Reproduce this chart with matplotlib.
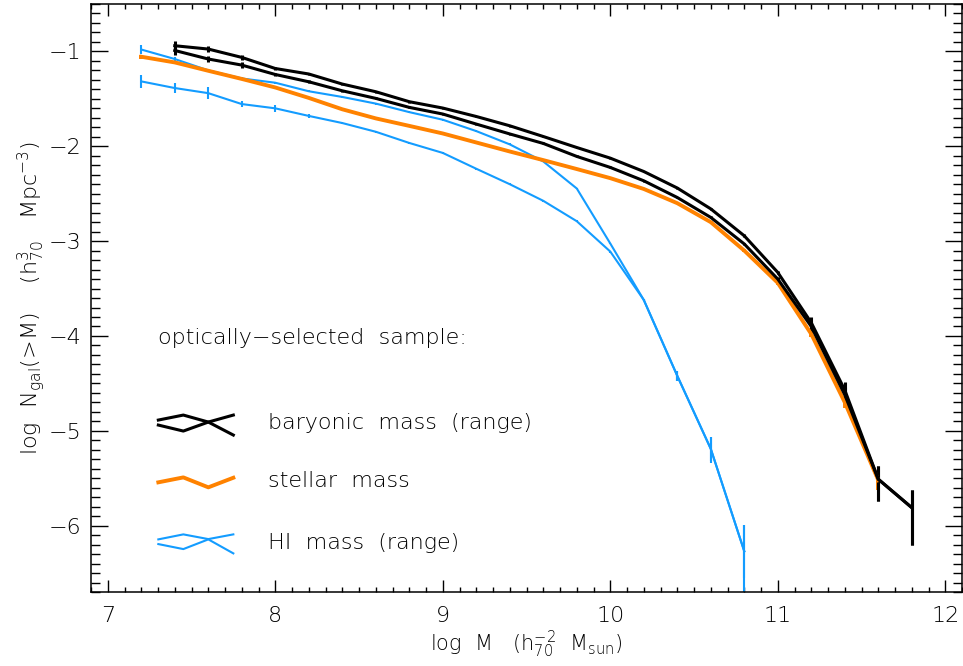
import matplotlib
matplotlib.use("Agg")
import matplotlib.pyplot as plt
from matplotlib.ticker import MultipleLocator

# mass bins (log M)
x_bary = [7.4, 7.6, 7.8, 8.0, 8.2, 8.4, 8.6, 8.8, 9.0, 9.2, 9.4, 9.6, 9.8,
          10.0, 10.2, 10.4, 10.6, 10.8, 11.0, 11.2, 11.4, 11.6, 11.8]
x_star = [7.2, 7.4, 7.6, 7.8, 8.0, 8.2, 8.4, 8.6, 8.8, 9.0, 9.2, 9.4, 9.6, 9.8,
          10.0, 10.2, 10.4, 10.6, 10.8, 11.0, 11.2, 11.4, 11.6]
x_hi = [7.2, 7.4, 7.6, 7.8, 8.0, 8.2, 8.4, 8.6, 8.8, 9.0, 9.2, 9.4, 9.6, 9.8,
        10.0, 10.2, 10.4, 10.6, 10.8]

# baryonic mass range (upper / lower)
bary_hi = [-0.94, -0.975, -1.063, -1.18, -1.238, -1.344, -1.425, -1.53, -1.597,
           -1.686, -1.784, -1.897, -2.013, -2.125, -2.266, -2.44, -2.66, -2.944,
           -3.33, -3.86, -4.57, -5.51, -5.81]
bary_lo = [-0.99, -1.08, -1.144, -1.243, -1.32, -1.415, -1.495, -1.59, -1.66,
           -1.766, -1.87, -1.97, -2.107, -2.223, -2.364, -2.54, -2.75, -3.03,
           -3.40, -3.90, -4.62, -5.51, -5.81]
bary_err_dn = [0.05, 0.03, 0.03, 0.02, 0.015, 0.01, 0.01, 0.01, 0.01, 0.01, 0.01,
               0.01, 0.01, 0.01, 0.01, 0.01, 0.01, 0.015, 0.02, 0.055, 0.1, 0.23, 0.39]
bary_err_up = [0.05, 0.03, 0.03, 0.02, 0.015, 0.01, 0.01, 0.01, 0.01, 0.01, 0.01,
               0.01, 0.01, 0.01, 0.01, 0.01, 0.01, 0.015, 0.02, 0.055, 0.08, 0.14, 0.19]

# stellar mass
stellar = [-1.056, -1.116, -1.204, -1.29, -1.38, -1.49, -1.61, -1.706, -1.785,
           -1.865, -1.96, -2.055, -2.146, -2.24, -2.336, -2.45, -2.60, -2.80,
           -3.10, -3.44, -3.98, -4.70, -5.52]
stellar_err = [0.02, 0.015, 0.01, 0.01, 0.01, 0.01, 0.01, 0.01, 0.01, 0.01, 0.01,
               0.01, 0.01, 0.01, 0.01, 0.01, 0.01, 0.01, 0.015, 0.02, 0.03, 0.06, 0.1]

# HI mass range (upper / lower)
hi_hi = [-0.98, -1.08, -1.20, -1.285, -1.33, -1.42, -1.48, -1.55, -1.64, -1.72,
         -1.84, -1.98, -2.16, -2.445, -3.025, -3.62, -4.42, -5.19, -6.27]
hi_lo = [-1.316, -1.386, -1.44, -1.555, -1.60, -1.68, -1.755, -1.847, -1.965,
         -2.07, -2.237, -2.40, -2.575, -2.79, -3.11, -3.62, -4.42, -5.19, -6.27]
hi_hi_err = [0.045, 0.02, 0.015, 0.015, 0.01, 0.01, 0.01, 0.01, 0.01, 0.01, 0.01,
             0.01, 0.01, 0.01, 0.01, 0.01, 0.05, 0.13, 0.28]
hi_lo_dn = [0.065, 0.055, 0.06, 0.035, 0.035, 0.02, 0.015, 0.01, 0.01, 0.01, 0.01,
            0.01, 0.01, 0.01, 0.01, 0.01, 0.05, 0.15, 1.0]
hi_lo_up = [0.07, 0.055, 0.06, 0.035, 0.035, 0.02, 0.015, 0.01, 0.01, 0.01, 0.01,
            0.01, 0.01, 0.01, 0.01, 0.01, 0.05, 0.12, 0.28]

BLUE = "#139cff"
ORANGE = "#ff8200"
BLACK = "#000000"

plt.rcParams["font.family"] = "DejaVu Sans"
plt.rcParams["font.weight"] = "light"
plt.rcParams["axes.labelweight"] = "light"
plt.rcParams["mathtext.fontset"] = "dejavusans"

fig = plt.figure(figsize=(9.63, 6.66), dpi=100)
ax = fig.add_axes([0.0945, 0.111, 0.9045, 0.883])

# HI mass range
ax.errorbar(x_hi, hi_hi, yerr=hi_hi_err, color=BLUE, lw=1.5, elinewidth=1.5, capsize=0)
ax.errorbar(x_hi, hi_lo, yerr=[hi_lo_dn, hi_lo_up], color=BLUE, lw=1.5,
            elinewidth=1.5, capsize=0)
# stellar mass
ax.errorbar(x_star, stellar, yerr=stellar_err, color=ORANGE, lw=2.8,
            elinewidth=2.8, capsize=0)
# baryonic mass range
ax.errorbar(x_bary, bary_hi, yerr=[bary_err_dn, bary_err_up], color=BLACK, lw=2.2,
            elinewidth=2.2, capsize=0)
ax.errorbar(x_bary, bary_lo, yerr=[bary_err_dn, bary_err_up], color=BLACK, lw=2.2,
            elinewidth=2.2, capsize=0)

ax.set_xlim(6.9, 12.1)
ax.set_ylim(-6.7, -0.5)
ax.xaxis.set_major_locator(MultipleLocator(1))
ax.xaxis.set_minor_locator(MultipleLocator(0.1))
ax.yaxis.set_major_locator(MultipleLocator(1))
ax.yaxis.set_minor_locator(MultipleLocator(0.1))
ax.tick_params(which="both", direction="in", top=True, right=True, width=1.0,
               labelsize=16)
ax.tick_params(axis="x", which="major", length=8.5, pad=10)
ax.tick_params(axis="x", which="minor", length=3.6)
ax.tick_params(axis="y", which="major", length=12, pad=7)
ax.tick_params(axis="y", which="minor", length=6.5)
for s in ax.spines.values():
    s.set_linewidth(1.1)

ax.set_xlabel(r"log  M   (h$_{70}^{-2}$  M$_{\rm sun}$)", fontsize=15, labelpad=2)
ax.set_ylabel(r"log  N$_{\rm gal}$(>M)    (h$_{70}^{3}$   Mpc$^{-3}$)", fontsize=16,
              labelpad=1)

# hand-drawn legend keys (axes fraction)
kx = [0.0773, 0.1060, 0.1347, 0.1634]
ax.plot(kx, [0.2925, 0.3010, 0.2891, 0.3010], color=BLACK, lw=2.2, transform=ax.transAxes)
ax.plot(kx, [0.2840, 0.2738, 0.2891, 0.2670], color=BLACK, lw=2.2, transform=ax.transAxes)
ax.plot(kx, [0.1866, 0.1950, 0.1781, 0.1944], color=ORANGE, lw=2.8, transform=ax.transAxes)
ax.plot(kx, [0.0896, 0.0981, 0.0901, 0.0981], color=BLUE, lw=1.5, transform=ax.transAxes)
ax.plot(kx, [0.0816, 0.0731, 0.0896, 0.0658], color=BLUE, lw=1.5, transform=ax.transAxes)

ax.text(0.0769, 0.432, "optically\u2212selected  sample:", fontsize=16,
        transform=ax.transAxes, va="center", ha="left")
ax.text(0.2032, 0.2874, "baryonic  mass  (range)", fontsize=16,
        transform=ax.transAxes, va="center", ha="left")
ax.text(0.2032, 0.1893, "stellar  mass", fontsize=16,
        transform=ax.transAxes, va="center", ha="left")
ax.text(0.2032, 0.0838, "HI  mass  (range)", fontsize=16,
        transform=ax.transAxes, va="center", ha="left")

fig.savefig("out.png", dpi=100)
